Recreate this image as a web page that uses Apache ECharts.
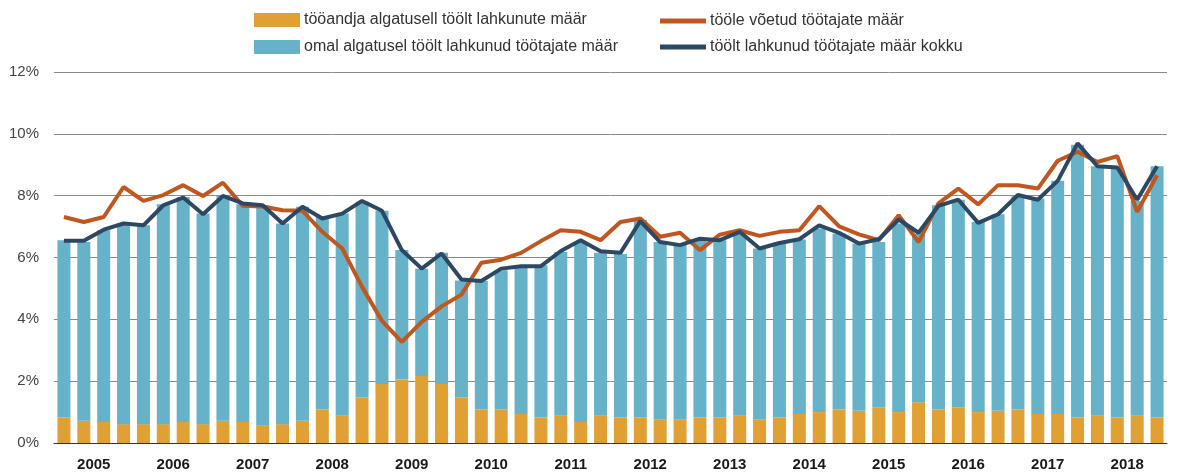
<!DOCTYPE html>
<html>
<head>
<meta charset="utf-8">
<script src="https://cdn.jsdelivr.net/npm/echarts@6/dist/echarts.min.js"></script>
<style>
	html, body { margin: 0; padding: 0; background: #ffffff; }
	#chart { width: 1177px; height: 473px; }
</style>
</head>
<body>
<div id="chart"></div>
<script>
// aastad (telje sildid) ja kvartalid
const years = ['2005', '2006', '2007', '2008', '2009', '2010', '2011', '2012', '2013', '2014', '2015', '2016', '2017', '2018']
const quarters = []
years.forEach(y => { for (let q = 1; q <= 4; q++) quarters.push(y + ' Q' + q) })

// tööandja algatusel töölt lahkunute määr, %
const employerInit = [
	0.83, 0.72, 0.68, 0.61, 0.61, 0.61, 0.68, 0.61, 0.72, 0.68, 0.56, 0.61, 0.72, 1.09,
	0.88, 1.47, 1.91, 2.05, 2.17, 1.91, 1.47, 1.09, 1.09, 0.94, 0.83, 0.88, 0.68, 0.88,
	0.83, 0.83, 0.77, 0.77, 0.83, 0.83, 0.88, 0.77, 0.83, 0.94, 1.00, 1.09, 1.04, 1.15,
	1.00, 1.32, 1.09, 1.15, 1.00, 1.04, 1.09, 0.94, 0.94, 0.83, 0.88, 0.83, 0.88, 0.83
]
// omal algatusel töölt lahkunud töötajate määr, %
const ownInit = [
	5.73, 5.78, 6.20, 6.43, 6.43, 7.11, 7.28, 6.81, 7.27, 7.04, 7.13, 6.49, 6.92, 6.22,
	6.54, 6.33, 5.60, 4.19, 3.47, 4.24, 3.79, 4.15, 4.50, 4.73, 4.92, 5.30, 5.82, 5.27,
	5.28, 6.38, 5.73, 5.65, 5.73, 5.73, 5.95, 5.52, 5.65, 5.64, 5.94, 5.68, 5.41, 5.35,
	6.10, 5.45, 6.60, 6.72, 6.15, 6.36, 6.89, 6.97, 7.54, 8.82, 8.07, 8.05, 6.95, 8.12
]
// tööle võetud töötajate määr, %
const hired = [
	7.31, 7.15, 7.31, 8.28, 7.83, 8.02, 8.34, 7.99, 8.42, 7.67, 7.65, 7.53, 7.51, 6.83,
	6.29, 5.05, 3.95, 3.27, 3.92, 4.42, 4.80, 5.83, 5.93, 6.15, 6.53, 6.88, 6.83, 6.56,
	7.15, 7.26, 6.67, 6.80, 6.24, 6.74, 6.88, 6.70, 6.83, 6.88, 7.66, 7.01, 6.75, 6.56,
	7.37, 6.50, 7.75, 8.23, 7.72, 8.34, 8.34, 8.23, 9.13, 9.42, 9.09, 9.28, 7.48, 8.66
]
// töölt lahkunud töötajate määr kokku, %
const totalLeft = [
	6.54, 6.54, 6.90, 7.10, 7.04, 7.69, 7.94, 7.40, 7.99, 7.75, 7.69, 7.10, 7.64, 7.26,
	7.42, 7.83, 7.51, 6.24, 5.64, 6.13, 5.29, 5.24, 5.64, 5.72, 5.72, 6.21, 6.56, 6.20,
	6.15, 7.18, 6.50, 6.40, 6.61, 6.56, 6.83, 6.29, 6.47, 6.59, 7.04, 6.80, 6.45, 6.59,
	7.23, 6.80, 7.67, 7.87, 7.12, 7.40, 8.02, 7.87, 8.48, 9.69, 8.95, 8.91, 7.87, 8.95
]

const names = [
	'tööandja algatusell töölt lahkunute määr',
	'omal algatusel töölt lahkunud töötajate määr',
	'tööle võetud töötajate määr',
	'töölt lahkunud töötajate määr kokku'
]
const colors = ['#E0A033', '#65B2C9', '#C1561F', '#2D4862']

const font = '"Liberation Sans", Arial, sans-serif'

// üks legend iga kirje jaoks, et paigutus oleks täpne
const makeLegend = (name, left, top, isLine) => ({
	data: [name],
	left: left,
	top: top,
	padding: 0,
	itemWidth: 46,
	itemHeight: isLine ? 5 : 14,
	itemGap: 0,
	icon: 'rect',
	selectedMode: false,
	textStyle: {
		fontFamily: font,
		fontSize: 16,
		lineHeight: 18,
		color: '#333333',
		padding: [0, 0, 0, -1]
	}
})

const chart = echarts.init(document.getElementById('chart'))
const option = {
	animation: false,
	color: colors,
	legend: [
		makeLegend(names[0], 254, 11, false),
		makeLegend(names[1], 254, 38, false),
		makeLegend(names[2], 660, 12, true),
		makeLegend(names[3], 660, 38, true)
	],
	grid: { left: 54, right: 10, top: 72, bottom: 30 },
	xAxis: [
		{
			type: 'category',
			data: quarters,
			show: false
		},
		{
			type: 'category',
			data: years,
			position: 'bottom',
			axisLine: { lineStyle: { color: '#333333', width: 1 } },
			axisTick: { inside: true, length: 7, lineStyle: { color: '#333333' } },
			axisLabel: {
				margin: 14,
				fontFamily: font,
				fontSize: 15,
				fontWeight: 'bold',
				color: '#1a1a1a'
			},
			splitLine: { show: false }
		}
	],
	yAxis: {
		type: 'value',
		min: 0,
		max: 12,
		interval: 2,
		axisLine: { show: false },
		axisTick: { show: false },
		axisLabel: {
			margin: 15,
			formatter: '{value}%',
			fontFamily: font,
			fontSize: 15,
			color: '#444444'
		},
		splitLine: { lineStyle: { color: '#8a8a8a', width: 1 } }
	},
	series: [
		{
			name: names[0],
			type: 'bar',
			stack: 'left',
			xAxisIndex: 0,
			barWidth: 13,
			data: employerInit
		},
		{
			name: names[1],
			type: 'bar',
			stack: 'left',
			xAxisIndex: 0,
			barWidth: 13,
			data: ownInit
		},
		{
			name: names[2],
			type: 'line',
			xAxisIndex: 0,
			symbol: 'none',
			lineStyle: { width: 4, color: colors[2] },
			data: hired
		},
		{
			name: names[3],
			type: 'line',
			xAxisIndex: 0,
			symbol: 'none',
			lineStyle: { width: 4, color: colors[3] },
			data: totalLeft
		}
	]
}
chart.setOption(option)
</script>
</body>
</html>
